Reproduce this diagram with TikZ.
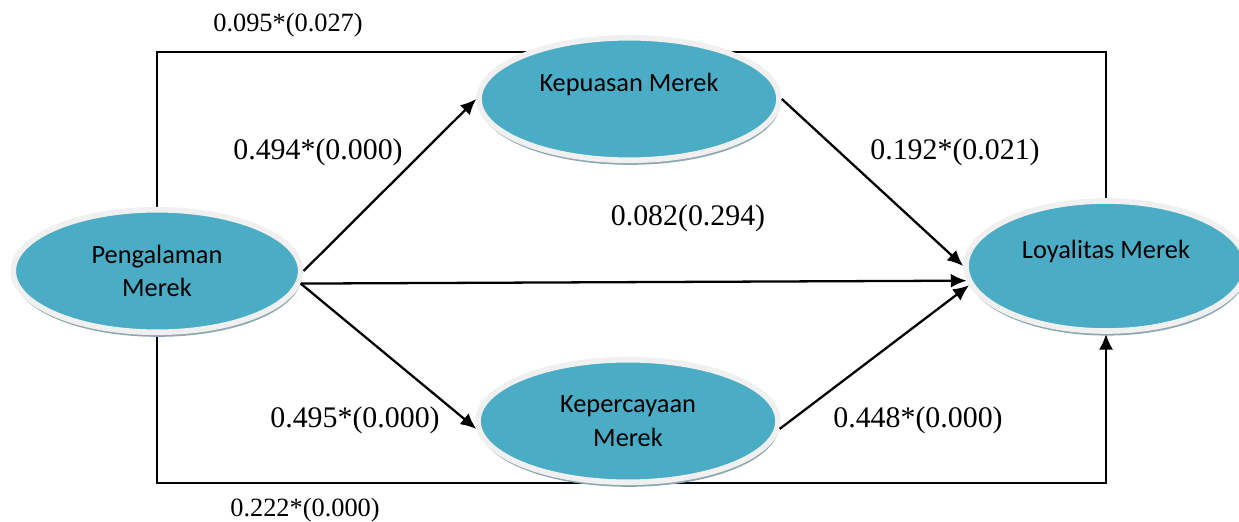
\documentclass[tikz,border=0pt]{standalone}
\usepackage{fontspec}
\setmainfont{Liberation Serif}
\newfontfamily\calib{Carlito}
\usetikzlibrary{shapes.geometric,shadows,arrows.meta,backgrounds}
\definecolor{Teal}{HTML}{4BACC6}
\definecolor{Rim}{HTML}{F0F0F0}
\definecolor{Shade}{HTML}{8FA7AE}

\begin{document}
\begin{tikzpicture}[
  every node/.style={inner sep=1pt},
  construct/.style={ellipse, fill=Teal, draw=Rim, line width=3.2pt,
    align=center, font=\calib\fontsize{15}{19}\selectfont,
    drop shadow={shadow xshift=0.5pt, shadow yshift=-2.6pt, fill=Shade, opacity=1}},
  coef/.style={font=\fontsize{17}{20}\selectfont},
  coefsmall/.style={font=\fontsize{15}{18}\selectfont},
  path/.style={line width=1.3pt, -{Latex[length=9pt,width=8pt]}},
  link/.style={line width=1.3pt}
]

% Page size (1239 x 521 px at 50 px/cm)
\useasboundingbox (0,0) rectangle (24.78,-10.42);

% ============================================================
% Constructs
% ============================================================
\node[construct, minimum width=5.75cm, minimum height=2.45cm] (peng)
  at (3.14,-5.42) {Pengalaman\\Merek};
\node[construct, minimum width=6.0cm, minimum height=2.45cm] (puas)
  at (12.58,-1.98) {Kepuasan Merek\\ \mbox{}};
\node[construct, minimum width=6.0cm, minimum height=2.45cm] (perc)
  at (12.56,-8.42) {Kepercayaan\\Merek};
\node[construct, minimum width=5.6cm, minimum height=2.6cm] (loy)
  at (22.12,-5.32) {Loyalitas Merek\\ \mbox{}};

% ============================================================
% Paths
% ============================================================
\coordinate (topL) at (3.14,-1.04);
\coordinate (botL) at (3.14,-9.66);

\begin{scope}[on background layer]
  % direct effect line over the top
  \draw[link] (peng.north) -- (topL) -| (loy.north);
  % direct effect line along the bottom
  \draw[path] (peng.south) -- (botL) -| (loy.south);
\end{scope}

\draw[path] (peng.east) -- (puas.west);
\draw[path] (peng.-5) -- (perc.183);
\draw[path] (peng.-5) -- (loy.186);
\draw[path] (puas.east) -- (loy.west);
\draw[path] (perc.-3) -- (loy.188);

% ============================================================
% Coefficients
% ============================================================
\node[coefsmall] (c1) at (5.76,-0.50) {0.095*(0.027)};
\node[coef] (c2) at (6.36,-3.04) {0.494*(0.000)};
\node[coef] (c3) at (13.76,-4.36) {0.082(0.294)};
\node[coef] (c4) at (19.10,-3.04) {0.192*(0.021)};
\node[coef] (c5) at (7.10,-8.40) {0.495*(0.000)};
\node[coef] (c6) at (18.36,-8.40) {0.448*(0.000)};
\node[coefsmall] (c7) at (6.10,-10.20) {0.222*(0.000)};

\end{tikzpicture}
\end{document}
